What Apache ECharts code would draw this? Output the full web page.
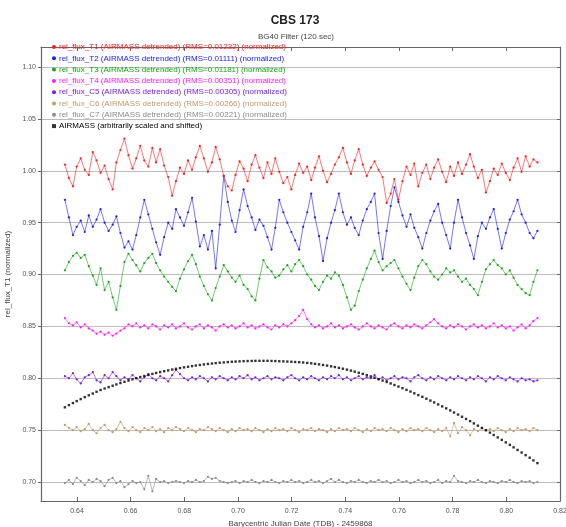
<!DOCTYPE html>
<html>
<head>
<meta charset="utf-8">
<script src="https://cdn.jsdelivr.net/npm/echarts@6/dist/echarts.min.js"></script>
<style>html,body{margin:0;padding:0;background:#fff}#c{width:566px;height:527px}</style>
</head>
<body>
<div id="c"></div>
<script>
const titleText = 'CBS 173';
const subtitleText = 'BG40 Filter (120 sec)';
const xName = 'Barycentric Julian Date (TDB) - 2459868';
const yName = 'rel_flux_T1 (normalized)';
const seriesNames = [
  'rel_flux_T1 (AIRMASS detrended) (RMS=0.01232) (normalized)',
  'rel_flux_T2 (AIRMASS detrended) (RMS=0.01111) (normalized)',
  'rel_flux_T3 (AIRMASS detrended) (RMS=0.01181) (normalized)',
  'rel_flux_T4 (AIRMASS detrended) (RMS=0.00351) (normalized)',
  'rel_flux_C5 (AIRMASS detrended) (RMS=0.00305) (normalized)',
  'rel_flux_C6 (AIRMASS detrended) (RMS=0.00266) (normalized)',
  'rel_flux_C7 (AIRMASS detrended) (RMS=0.00221) (normalized)',
  'AIRMASS (arbitrarily scaled and shifted)'
];
const seriesColors = ['#ff1a1a','#1a1aff','#14a814','#ff1aff','#7a1ae6','#c49a6c','#8c8c8c','#000000'];

const time = [0.6355,0.6370,0.6385,0.6399,0.6414,0.6429,0.6444,0.6459,0.6473,0.6488,0.6503,0.6518,0.6533,0.6547,0.6562,0.6577,0.6592,0.6607,0.6621,0.6636,
0.6651,0.6666,0.6681,0.6695,0.6710,0.6725,0.6740,0.6755,0.6769,0.6784,0.6799,0.6814,0.6829,0.6843,0.6858,0.6873,0.6888,0.6903,0.6917,0.6932,
0.6947,0.6962,0.6977,0.6991,0.7006,0.7021,0.7036,0.7051,0.7065,0.7080,0.7095,0.7110,0.7125,0.7139,0.7154,0.7169,0.7184,0.7199,0.7213,0.7228,
0.7243,0.7258,0.7273,0.7287,0.7302,0.7317,0.7332,0.7347,0.7361,0.7376,0.7391,0.7406,0.7421,0.7435,0.7450,0.7465,0.7480,0.7495,0.7509,0.7524,
0.7539,0.7554,0.7569,0.7583,0.7598,0.7613,0.7628,0.7643,0.7657,0.7672,0.7687,0.7702,0.7717,0.7731,0.7746,0.7761,0.7776,0.7791,0.7805,0.7820,
0.7835,0.7850,0.7865,0.7879,0.7894,0.7909,0.7924,0.7939,0.7953,0.7968,0.7983,0.7998,0.8013,0.8027,0.8042,0.8057,0.8072,0.8087,0.8101,0.8116];

const t1 = [1.006,0.993,0.985,1.004,1.012,1.001,0.996,1.018,1.010,0.998,1.005,0.992,0.982,1.008,1.020,1.031,1.015,1.002,1.012,1.024,
1.010,1.004,1.022,1.008,1.021,1.005,0.994,0.976,0.990,1.003,0.997,1.010,1.001,1.013,1.024,1.012,0.999,1.008,1.023,1.011,
0.995,0.985,0.981,0.996,1.009,1.002,0.990,1.006,1.015,1.003,0.993,1.008,0.997,1.012,0.999,0.988,0.994,0.982,0.996,1.007,
0.998,1.004,0.991,1.003,1.014,1.000,0.989,0.997,1.006,1.013,1.022,1.008,0.997,1.010,1.021,1.006,0.995,1.003,1.009,1.001,
0.994,0.969,0.978,0.992,0.972,0.990,1.004,0.996,1.007,0.985,0.998,1.006,0.992,1.003,1.011,0.999,0.989,1.004,0.995,1.008,
0.997,1.006,1.016,1.004,0.993,1.001,0.979,0.990,1.002,0.996,1.007,0.998,0.991,1.003,1.012,0.999,1.014,1.004,1.011,1.008];

const t2 = [0.972,0.955,0.938,0.946,0.952,0.941,0.957,0.946,0.953,0.963,0.950,0.942,0.948,0.956,0.940,0.926,0.932,0.924,0.938,0.955,
0.972,0.958,0.944,0.931,0.919,0.936,0.950,0.944,0.963,0.955,0.947,0.960,0.974,0.951,0.927,0.938,0.924,0.942,0.906,0.948,
0.995,0.970,0.952,0.941,0.962,0.982,0.966,0.955,0.943,0.953,0.947,0.936,0.924,0.945,0.972,0.960,0.950,0.941,0.933,0.924,
0.946,0.960,0.978,0.955,0.937,0.913,0.935,0.950,0.962,0.978,0.960,0.948,0.955,0.945,0.938,0.952,0.963,0.970,0.978,0.940,
0.915,0.942,0.966,0.984,0.970,0.957,0.946,0.958,0.945,0.936,0.925,0.940,0.952,0.961,0.968,0.950,0.938,0.925,0.950,0.972,
0.955,0.940,0.928,0.915,0.937,0.950,0.944,0.955,0.963,0.944,0.925,0.940,0.953,0.961,0.972,0.958,0.950,0.940,0.935,0.942];

const t3 = [0.904,0.912,0.918,0.921,0.916,0.919,0.908,0.899,0.890,0.906,0.885,0.893,0.878,0.866,0.889,0.912,0.920,0.914,0.909,0.903,
0.911,0.916,0.920,0.911,0.904,0.898,0.893,0.888,0.884,0.896,0.905,0.913,0.919,0.910,0.898,0.889,0.881,0.875,0.887,0.898,
0.909,0.903,0.897,0.893,0.899,0.890,0.886,0.879,0.875,0.896,0.914,0.907,0.903,0.897,0.899,0.905,0.909,0.903,0.910,0.914,
0.908,0.900,0.895,0.889,0.885,0.893,0.899,0.896,0.902,0.899,0.890,0.878,0.866,0.870,0.884,0.895,0.906,0.915,0.923,0.912,
0.904,0.908,0.911,0.914,0.906,0.898,0.891,0.885,0.897,0.908,0.914,0.910,0.903,0.898,0.895,0.900,0.906,0.902,0.904,0.898,
0.893,0.896,0.890,0.886,0.880,0.893,0.905,0.910,0.914,0.909,0.906,0.900,0.904,0.897,0.890,0.886,0.882,0.880,0.893,0.904];

const t4 = [0.858,0.853,0.851,0.854,0.849,0.852,0.848,0.846,0.843,0.845,0.842,0.844,0.841,0.843,0.846,0.848,0.852,0.850,0.853,0.849,
0.851,0.848,0.852,0.850,0.847,0.851,0.849,0.852,0.848,0.850,0.853,0.849,0.847,0.850,0.852,0.848,0.851,0.849,0.846,0.850,
0.852,0.849,0.851,0.848,0.850,0.853,0.849,0.851,0.848,0.850,0.852,0.849,0.847,0.851,0.849,0.852,0.850,0.853,0.856,0.860,
0.866,0.857,0.852,0.849,0.851,0.848,0.850,0.853,0.849,0.851,0.848,0.850,0.852,0.849,0.847,0.850,0.853,0.850,0.848,0.851,
0.849,0.847,0.851,0.853,0.850,0.848,0.851,0.849,0.852,0.850,0.848,0.851,0.854,0.857,0.853,0.850,0.848,0.851,0.849,0.852,
0.850,0.847,0.850,0.852,0.849,0.851,0.848,0.850,0.853,0.849,0.851,0.848,0.850,0.846,0.849,0.852,0.848,0.851,0.855,0.858];

const c5 = [0.802,0.800,0.805,0.799,0.795,0.801,0.803,0.806,0.798,0.796,0.803,0.800,0.806,0.802,0.798,0.801,0.799,0.803,0.800,0.797,
0.801,0.804,0.800,0.798,0.802,0.800,0.797,0.803,0.808,0.804,0.800,0.798,0.801,0.799,0.802,0.800,0.797,0.801,0.799,0.802,
0.800,0.798,0.801,0.799,0.802,0.800,0.803,0.799,0.801,0.798,0.800,0.802,0.799,0.801,0.800,0.798,0.801,0.803,0.800,0.798,
0.801,0.799,0.802,0.800,0.798,0.801,0.799,0.802,0.800,0.803,0.799,0.801,0.798,0.800,0.802,0.799,0.801,0.800,0.803,0.799,
0.801,0.798,0.800,0.802,0.799,0.801,0.800,0.797,0.801,0.803,0.800,0.798,0.801,0.799,0.802,0.800,0.798,0.801,0.799,0.802,
0.800,0.798,0.801,0.799,0.802,0.800,0.797,0.801,0.799,0.802,0.800,0.798,0.801,0.799,0.797,0.800,0.798,0.799,0.797,0.798];

const c6 = [0.755,0.752,0.750,0.753,0.749,0.751,0.756,0.750,0.747,0.752,0.755,0.750,0.748,0.751,0.758,0.752,0.749,0.753,0.750,0.748,
0.752,0.750,0.753,0.749,0.751,0.748,0.752,0.750,0.753,0.751,0.749,0.752,0.750,0.748,0.751,0.750,0.753,0.751,0.749,0.752,
0.750,0.748,0.751,0.749,0.752,0.750,0.751,0.749,0.752,0.750,0.748,0.751,0.749,0.752,0.750,0.751,0.749,0.752,0.750,0.748,
0.751,0.750,0.752,0.749,0.751,0.750,0.748,0.751,0.749,0.752,0.750,0.751,0.749,0.752,0.750,0.748,0.751,0.749,0.752,0.750,
0.751,0.749,0.752,0.750,0.748,0.751,0.749,0.752,0.750,0.751,0.749,0.752,0.750,0.748,0.751,0.749,0.752,0.744,0.757,0.747,
0.753,0.750,0.745,0.751,0.749,0.752,0.750,0.751,0.749,0.752,0.750,0.748,0.751,0.749,0.752,0.750,0.751,0.749,0.752,0.750];

const c7 = [0.699,0.702,0.698,0.704,0.701,0.697,0.702,0.700,0.703,0.701,0.696,0.702,0.704,0.699,0.701,0.695,0.698,0.701,0.699,0.700,
0.693,0.706,0.691,0.703,0.700,0.701,0.699,0.700,0.701,0.700,0.699,0.701,0.700,0.702,0.700,0.701,0.705,0.703,0.704,0.701,
0.700,0.699,0.700,0.701,0.699,0.701,0.700,0.702,0.700,0.699,0.701,0.700,0.702,0.700,0.699,0.701,0.700,0.702,0.700,0.701,
0.699,0.700,0.702,0.700,0.701,0.699,0.701,0.703,0.700,0.702,0.700,0.699,0.701,0.700,0.702,0.700,0.699,0.701,0.700,0.702,
0.700,0.701,0.699,0.700,0.702,0.700,0.701,0.699,0.700,0.702,0.700,0.701,0.699,0.700,0.702,0.699,0.701,0.700,0.706,0.701,
0.700,0.699,0.701,0.700,0.702,0.700,0.699,0.701,0.700,0.699,0.701,0.700,0.702,0.700,0.699,0.701,0.700,0.701,0.699,0.700];

const airmass = [0.7720,0.7741,0.7761,0.7780,0.7799,0.7818,0.7836,0.7853,0.7870,0.7887,0.7901,0.7915,0.7928,0.7941,0.7954,0.7966,0.7978,0.7990,0.8001,0.8012,
0.8022,0.8032,0.8042,0.8051,0.8060,0.8068,0.8076,0.8084,0.8091,0.8098,0.8105,0.8111,0.8117,0.8123,0.8128,0.8133,0.8138,0.8142,0.8146,0.8150,
0.8153,0.8156,0.8159,0.8161,0.8163,0.8165,0.8166,0.8167,0.8168,0.8168,0.8168,0.8168,0.8167,0.8166,0.8164,0.8163,0.8161,0.8159,0.8157,0.8155,
0.8152,0.8148,0.8144,0.8139,0.8134,0.8128,0.8122,0.8115,0.8108,0.8100,0.8092,0.8083,0.8074,0.8064,0.8053,0.8042,0.8030,0.8018,0.8005,0.7992,
0.7978,0.7964,0.7950,0.7935,0.7920,0.7904,0.7888,0.7872,0.7855,0.7838,0.7821,0.7803,0.7785,0.7767,0.7748,0.7729,0.7710,0.7690,0.7670,0.7650,
0.7629,0.7608,0.7587,0.7565,0.7543,0.7521,0.7499,0.7476,0.7453,0.7430,0.7406,0.7382,0.7358,0.7334,0.7309,0.7284,0.7259,0.7234,0.7208,0.7182];

const fluxSets = [t1, t2, t3, t4, c5, c6, c7];

const chart = echarts.init(document.getElementById('c'), null, {renderer: 'canvas'});
const FONT = 'Liberation Sans, Arial, sans-serif';
const axisColor = '#666';

const series = fluxSets.map((arr, k) => ({
  name: seriesNames[k],
  type: 'line',
  data: time.map((t, i) => [t, arr[i]]),
  symbol: 'circle',
  symbolSize: 2.2,
  showSymbol: true,
  itemStyle: {color: seriesColors[k]},
  lineStyle: {color: seriesColors[k], width: 0.8, opacity: 0.75},
  z: 10 - k
}));
series.push({
  name: seriesNames[7],
  type: 'scatter',
  data: time.map((t, i) => [t, airmass[i]]),
  symbol: 'rect',
  symbolSize: 2.4,
  itemStyle: {color: seriesColors[7]},
  z: 12
});

chart.setOption({
  animation: false,
  backgroundColor: '#fff',
  title: [
    {text: titleText, left: 290, textAlign: 'center', top: 10,
     textStyle: {fontFamily: FONT, fontSize: 12, fontWeight: 'bold', color: '#222'}},
    {text: subtitleText, left: 291, textAlign: 'center', top: 28,
     textStyle: {fontFamily: FONT, fontSize: 8, fontWeight: 'normal', color: '#444'}}
  ],
  legend: {
    orient: 'vertical', left: 47, top: 37,
    itemWidth: 4, itemHeight: 4, itemGap: 1.3,
    textStyle: {fontFamily: FONT, fontSize: 8, lineHeight: 10, padding: [0,0,0,-2]},
    data: seriesNames.map((n, k) => ({name: n, icon: k === 7 ? 'rect' : 'circle', textStyle: {color: seriesColors[k]}})),
    selectedMode: false
  },
  grid: {left: 41, right: 6, top: 47, bottom: 26, show: false, outerBoundsMode: 'none', containLabel: false},
  xAxis: [
    {type: 'value', min: 0.6266, max: 0.82, splitNumber: 10, position: 'bottom',
     name: xName, nameLocation: 'middle', nameGap: 15,
     nameTextStyle: {fontFamily: FONT, fontSize: 8, color: '#444'},
     axisLine: {show: true, onZero: false, lineStyle: {color: axisColor, width: 1.2}},
     axisTick: {show: true, inside: true, length: 4, lineStyle: {color: axisColor}},
     axisLabel: {show: true, fontFamily: FONT, fontSize: 7, color: '#555', margin: 7,
       showMinLabel: false, formatter: v => v.toFixed(2)},
     splitLine: {show: false}},
    {type: 'value', min: 0.6266, max: 0.82, splitNumber: 10, position: 'top',
     axisLine: {show: true, onZero: false, lineStyle: {color: axisColor, width: 1.2}},
     axisTick: {show: true, inside: true, length: 4, lineStyle: {color: axisColor}},
     axisLabel: {show: false}, splitLine: {show: false}}
  ],
  yAxis: [
    {type: 'value', min: 0.6817, max: 1.1193, splitNumber: 9, position: 'left',
     name: yName, nameLocation: 'middle', nameGap: 20, nameRotate: 90,
     nameTextStyle: {fontFamily: FONT, fontSize: 8, color: '#444'},
     axisLine: {show: true, onZero: false, lineStyle: {color: axisColor, width: 1.2}},
     axisTick: {show: true, inside: false, length: 3, lineStyle: {color: axisColor}},
     axisLabel: {show: true, fontFamily: FONT, fontSize: 7, color: '#555', margin: 5,
       showMinLabel: false, showMaxLabel: false, formatter: v => v.toFixed(2)},
     splitLine: {show: true, lineStyle: {color: '#bdbdbd', width: 1}}},
    {type: 'value', min: 0.6817, max: 1.1193, splitNumber: 9, position: 'right',
     axisLine: {show: true, onZero: false, lineStyle: {color: axisColor, width: 1.2}},
     axisTick: {show: true, inside: true, length: 3, lineStyle: {color: axisColor}},
     axisLabel: {show: false}, splitLine: {show: false}}
  ],
  series: series
});
</script>
</body>
</html>
